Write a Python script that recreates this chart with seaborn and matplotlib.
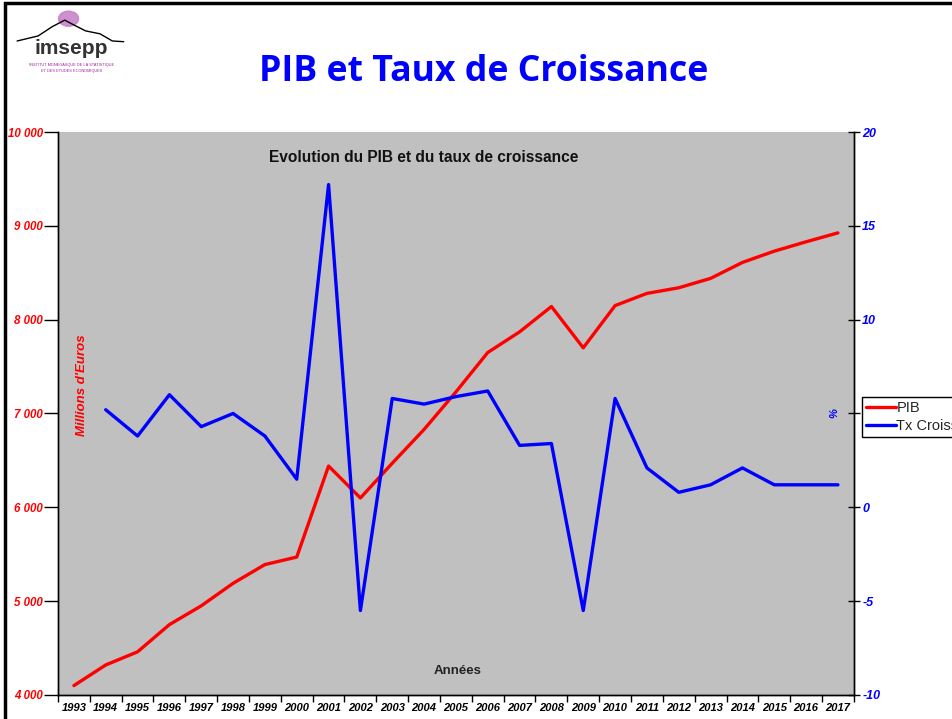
# PIB et taux de croissance - graphique à deux axes
import pandas as pd
import matplotlib
matplotlib.use("Agg")
from matplotlib import pyplot as plt
from matplotlib.ticker import FuncFormatter, FixedLocator
from matplotlib.lines import Line2D
from matplotlib.patches import Circle, Rectangle
import seaborn as sns

# données
annees = list(range(1993, 2018))
pib = [4100, 4320, 4460, 4750, 4950, 5190, 5390, 5470, 6440, 6100, 6470,
       6830, 7230, 7650, 7870, 8140, 7700, 8150, 8280, 8340, 8440, 8610,
       8730, 8830, 8925]
croissance = [None, 5.2, 3.8, 6.0, 4.3, 5.0, 3.8, 1.5, 17.2, -5.5, 5.8,
              5.5, 5.9, 6.2, 3.3, 3.4, -5.5, 5.8, 2.1, 0.8, 1.2, 2.1,
              1.2, 1.2, 1.2]

df = pd.DataFrame({'annee': annees, 'pos': range(len(annees)),
                   'PIB': pib, 'Tx Croissance': croissance})

sns.set_style("white")
plt.rcParams['font.family'] = ['Liberation Sans', 'DejaVu Sans']
plt.rcParams['axes.unicode_minus'] = False

fig = plt.figure(figsize=(9.52, 7.19), dpi=100)
ax = fig.add_axes([0.0609, 0.0334, 0.836, 0.783])
ax.set_facecolor('#C0C0C0')
ax2 = ax.twinx()

sns.lineplot(data=df, x='pos', y='PIB', ax=ax, color='#FF0000', linewidth=2.4, label='PIB', legend=False)
sns.lineplot(data=df.dropna(), x='pos', y='Tx Croissance', ax=ax2, color='#0000FF', linewidth=2.4,
             label='Tx Croissance', legend=False)

ax.set_xlim(-0.5, len(annees) - 0.5)
ax.set_ylim(4000, 10000)
ax2.set_ylim(-10, 20)

# axe des x : graduations entre les catégories, étiquettes au centre
ax.xaxis.set_major_locator(FixedLocator([i - 0.5 for i in range(len(annees) + 1)]))
ax.xaxis.set_minor_locator(FixedLocator(list(range(len(annees)))))
ax.set_xticklabels([], minor=False)
ax.set_xticklabels([str(a) for a in annees], minor=True, fontsize=8, fontweight='bold',
                   fontstyle='italic', color='black')
ax.tick_params(axis='x', which='major', direction='out', length=5, width=1, color='black', bottom=True)
ax.tick_params(axis='x', which='minor', length=0, pad=6)

fmt = FuncFormatter(lambda v, p: f"{int(v):,}".replace(',', ' '))
ax.set_yticks(range(4000, 10001, 1000))
ax.yaxis.set_major_formatter(fmt)
ax.tick_params(axis='y', direction='out', length=10, width=1, color='black', left=True, pad=1)
for t in ax.get_yticklabels():
    t.set_color('#FF0000'); t.set_fontweight('bold'); t.set_fontstyle('italic'); t.set_fontsize(8.3)

ax2.set_yticks(range(-10, 21, 5))
ax2.tick_params(axis='y', direction='inout', length=8, width=1, color='black', right=True, pad=2)
for t in ax2.get_yticklabels():
    t.set_color('#0000FF'); t.set_fontweight('bold'); t.set_fontstyle('italic'); t.set_fontsize(9)

ax.set_xlabel('')
ax.set_ylabel('')
ax2.set_ylabel('')
for a in (ax, ax2):
    a.spines['top'].set_visible(False)
    for s in ('left', 'bottom', 'right'):
        a.spines[s].set_color('black')
        a.spines[s].set_linewidth(1)

# titres et libellés dans la zone de tracé
ax.text(0.46, 0.955, 'Evolution du PIB et du taux de croissance', transform=ax.transAxes,
        ha='center', va='center', fontsize=11.2, fontweight='bold', color='#111111')
ax.text(0.502, 0.042, 'Années', transform=ax.transAxes, ha='center', va='center',
        fontsize=9.5, fontweight='bold', color='#222222')
ax.text(0.03, 0.55, "Millions d'Euros", transform=ax.transAxes, ha='center', va='center',
        rotation=90, fontsize=9.5, fontweight='bold', fontstyle='italic', color='#FF0000')
ax.text(0.975, 0.5, '%', transform=ax.transAxes, ha='center', va='center',
        rotation=90, fontsize=8, fontweight='bold', fontstyle='italic', color='#0000FF')

# légende (coupée par le bord de la figure, comme sur l'original)
handles = [Line2D([], [], color='#FF0000', linewidth=2.4), Line2D([], [], color='#0000FF', linewidth=2.4)]
leg = fig.legend(handles, ['PIB', 'Tx Croissance'], loc='upper left', bbox_to_anchor=(0.9055, 0.448),
                 fontsize=10.5, frameon=True, fancybox=False, edgecolor='black', framealpha=1,
                 handlelength=2.0, handletextpad=0.05, borderpad=0.3, labelspacing=0.25,
                 borderaxespad=0)
leg.get_frame().set_linewidth(1)

# titre principal
fig.text(0.508, 0.90, 'PIB et Taux de Croissance', ha='center', va='center', fontsize=25.7,
         fontweight='bold', color='#0000FF', family=['Open Sans', 'DejaVu Sans'])

# cadre de la diapositive
fig.add_artist(Rectangle((0.0055, -0.1), 1.2, 1.096, transform=fig.transFigure, fill=False,
                         edgecolor='black', linewidth=2.5))

# logo imsepp
fig.add_artist(Line2D([0.018, 0.04, 0.055, 0.068, 0.078, 0.09, 0.105, 0.118, 0.13],
                      [0.943, 0.95, 0.963, 0.972, 0.965, 0.957, 0.953, 0.943, 0.942],
                      transform=fig.transFigure, color='black', linewidth=1))
fig.add_artist(Circle((0.072, 0.974), 0.0105, transform=fig.transFigure, color='#C77DC7', alpha=0.85))
fig.text(0.075, 0.933, 'imsepp', ha='center', va='center', fontsize=15, fontweight='bold', color='#333333')
fig.text(0.075, 0.91, 'INSTITUT MONEGASQUE DE LA STATISTIQUE', ha='center', va='center',
         fontsize=2.8, color='#A020A0')
fig.text(0.075, 0.901, "ET DES ETUDES ECONOMIQUES", ha='center', va='center',
         fontsize=2.8, color='#A020A0')

fig.savefig('out.png', dpi=100)
